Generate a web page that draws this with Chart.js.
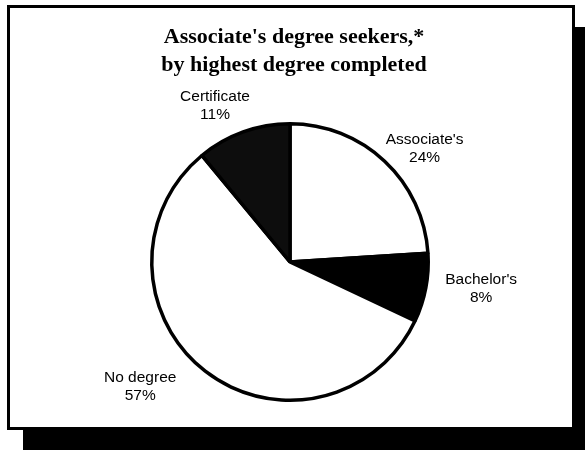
<!DOCTYPE html>
<html>
<head>
<meta charset="utf-8">
<script src="https://cdn.jsdelivr.net/npm/chart.js@4/dist/chart.umd.min.js"></script>
<style>
  body { margin: 0; background: #fff; width: 585px; height: 450px; overflow: hidden; position: relative; }
  #frame {
    position: absolute; left: 7px; top: 5px; width: 562px; height: 419px;
    border: 3px solid #000; background: #fff;
    box-shadow: 16px 22px 0 #000;
  }
  #title {
    position: absolute; left: 0; top: 14px; width: 568px; text-align: center;
    font: bold 22px "Liberation Serif", "Times New Roman", serif;
    line-height: 28px; color: #000;
  }
  canvas { position: absolute; left: 0; top: 0; }
</style>
</head>
<body>
<div id="frame">
  <canvas id="pie" width="562" height="419"></canvas>
  <div id="title">Associate's degree seekers,*<br>by highest degree completed</div>
</div>
<script>
// Data
const categories = ["Associate's", "Bachelor's", 'No degree', 'Certificate'];
const shares = [24, 8, 57, 11];
const sliceColors = ['#ffffff', '#000000', '#ffffff', '#0d0d0d'];

// label placement tweaks (degrees shift, distance from centre in px)
const labelShift = [6.7, -2.9, 12.4, -5.9];
const labelDist = [176, 193, 195, 173];

const outsideLabels = {
    id: 'outsideLabels',
    afterDraw(chart) {
        const ctx = chart.ctx;
        const meta = chart.getDatasetMeta(0);
        ctx.save();
        ctx.fillStyle = '#000';
        ctx.font = '15.5px "Liberation Sans", Arial, sans-serif';
        ctx.textAlign = 'center';
        ctx.textBaseline = 'middle';
        meta.data.forEach((arc, i) => {
            const mid = (arc.startAngle + arc.endAngle) / 2 + labelShift[i] * Math.PI / 180;
            const x = arc.x + Math.cos(mid) * labelDist[i];
            const y = arc.y + Math.sin(mid) * labelDist[i];
            ctx.fillText(categories[i], x, y - 9);
            ctx.fillText(shares[i] + '%', x, y + 9);
        });
        ctx.restore();
    }
};

new Chart(document.getElementById('pie').getContext('2d'), {
    type: 'pie',
    data: {
        labels: categories,
        datasets: [{
            data: shares,
            backgroundColor: sliceColors,
            borderColor: '#000',
            borderWidth: 3.5
        }]
    },
    options: {
        responsive: false,
        animation: false,
        layout: { padding: { left: 140, right: 142, top: 114, bottom: 25 } },
        plugins: {
            legend: { display: false },
            tooltip: { enabled: false }
        }
    },
    plugins: [outsideLabels]
});
</script>
</body>
</html>
